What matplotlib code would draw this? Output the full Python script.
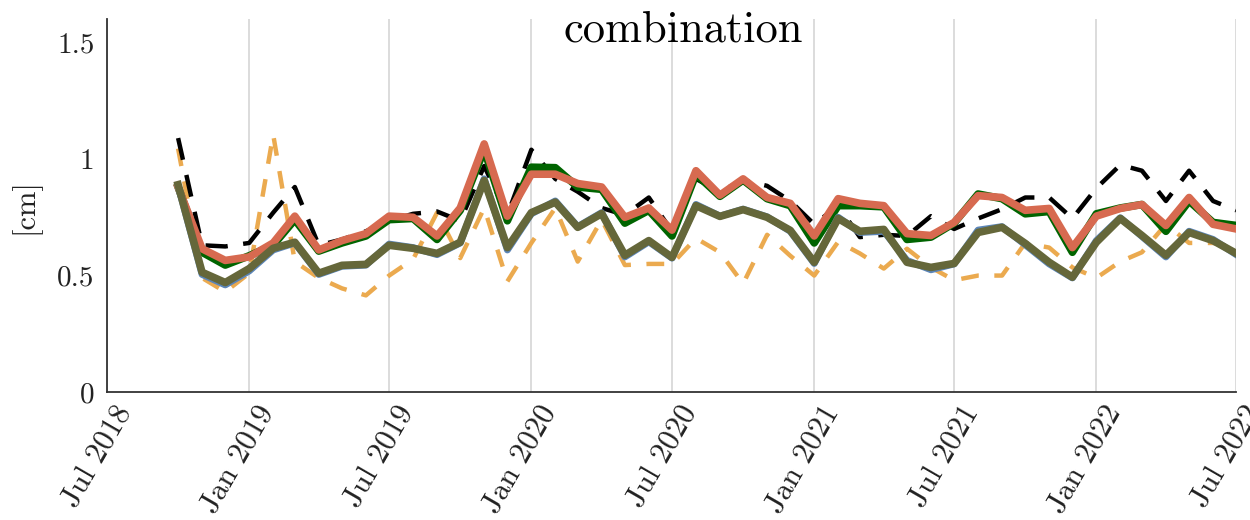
import datetime as dt
import matplotlib
matplotlib.use('Agg')
import matplotlib.pyplot as plt
import matplotlib.dates as mdates
import matplotlib.transforms as mtransforms

##### monthly series, Oct 2018 .. Jul 2022
months = [dt.date(2018 + (9 + i) // 12, (9 + i) % 12 + 1, 1) for i in range(46)]

red = [0.88, 0.615, 0.565, 0.58, 0.64, 0.755, 0.61, 0.65, 0.68, 0.755,
       0.75, 0.67, 0.79, 1.065, 0.755, 0.935, 0.935, 0.895, 0.88, 0.75,
       0.79, 0.695, 0.95, 0.845, 0.915, 0.835, 0.81, 0.67, 0.83, 0.81,
       0.80, 0.68, 0.672, 0.728, 0.843, 0.835, 0.78, 0.788, 0.62, 0.755,
       0.788, 0.805, 0.715, 0.835, 0.72, 0.70]
green = [0.88, 0.60, 0.545, 0.585, 0.63, 0.74, 0.605, 0.64, 0.67, 0.74,
         0.745, 0.655, 0.78, 1.04, 0.735, 0.965, 0.963, 0.88, 0.87, 0.725,
         0.78, 0.67, 0.935, 0.84, 0.91, 0.83, 0.80, 0.64, 0.80, 0.80,
         0.795, 0.655, 0.665, 0.725, 0.85, 0.83, 0.765, 0.775, 0.60, 0.765,
         0.79, 0.805, 0.69, 0.82, 0.728, 0.715]
olive = [0.89, 0.514, 0.47, 0.53, 0.617, 0.643, 0.51, 0.544, 0.548, 0.63,
         0.617, 0.595, 0.643, 0.908, 0.62, 0.77, 0.815, 0.707, 0.766, 0.587,
         0.65, 0.578, 0.80, 0.754, 0.783, 0.75, 0.694, 0.557, 0.745, 0.69,
         0.698, 0.557, 0.535, 0.552, 0.685, 0.707, 0.638, 0.557, 0.493, 0.643,
         0.745, 0.672, 0.587, 0.685, 0.65, 0.595]
blue = [0.885, 0.505, 0.46, 0.52, 0.61, 0.64, 0.505, 0.54, 0.545, 0.635,
        0.62, 0.59, 0.64, 0.915, 0.61, 0.765, 0.82, 0.71, 0.77, 0.58,
        0.645, 0.575, 0.805, 0.755, 0.785, 0.752, 0.69, 0.552, 0.75, 0.685,
        0.69, 0.565, 0.525, 0.55, 0.695, 0.71, 0.632, 0.55, 0.49, 0.65,
        0.748, 0.668, 0.58, 0.69, 0.655, 0.59]
black = [1.09, 0.63, 0.625, 0.64, 0.77, 0.88, 0.63, 0.655, 0.69, 0.735,
         0.765, 0.775, 0.735, 0.97, 0.76, 1.04, 0.915, 0.86, 0.79, 0.76,
         0.835, 0.69, 0.915, 0.86, 0.91, 0.885, 0.82, 0.72, 0.80, 0.665,
         0.675, 0.67, 0.755, 0.70, 0.745, 0.785, 0.835, 0.835, 0.745, 0.875,
         0.975, 0.95, 0.82, 0.95, 0.82, 0.78]
orange = [1.045, 0.49, 0.43, 0.51, 1.105, 0.56, 0.49, 0.445, 0.415, 0.50,
          0.57, 0.77, 0.575, 0.79, 0.475, 0.64, 0.79, 0.56, 0.74, 0.545,
          0.55, 0.55, 0.66, 0.60, 0.465, 0.675, 0.585, 0.50, 0.645, 0.595,
          0.53, 0.615, 0.535, 0.48, 0.50, 0.50, 0.64, 0.62, 0.535, 0.49,
          0.56, 0.60, 0.72, 0.64, 0.64, 0.62]

yticks = [0, 0.5, 1, 1.5]
yticklabels = ['0', '0.5', '1', '1.5']

##### style
plt.rcParams['font.family'] = 'cmr10'
plt.rcParams['axes.unicode_minus'] = False
plt.rcParams['axes.formatter.use_mathtext'] = True

fig = plt.figure(figsize=(12.5, 5.2), dpi=100)
ax = fig.add_axes([0.0856, 0.246, 0.9034, 0.717])

ax.plot(months, orange, color='#ebaa4f', lw=3.2, dashes=(4, 3.5), zorder=2)
ax.plot(months, black, color='black', lw=3.2, dashes=(5, 3.5), zorder=3)
ax.plot(months, green, color='#006400', lw=5.5, zorder=4)
ax.plot(months, red, color='#d76a50', lw=5.5, zorder=5)
ax.plot(months, blue, color='#5b85b8', lw=5.0, zorder=6)
ax.plot(months, olive, color='#65673a', lw=5.5, zorder=7)

ax.set_xlim(dt.date(2018, 7, 1), dt.date(2022, 7, 1))
ax.set_ylim(0, 1.6)
ax.xaxis.set_major_locator(mdates.MonthLocator(bymonth=[1, 7]))
ax.xaxis.set_major_formatter(mdates.DateFormatter('%b %Y'))
ax.set_yticks(yticks)
ax.set_yticklabels(yticklabels)
ax.tick_params(axis='both', length=0, colors='#222222')
ax.tick_params(axis='y', labelsize=21, pad=9)
ax.tick_params(axis='x', labelsize=22, pad=6)
shift = mtransforms.ScaledTranslation(0.06, 0, fig.dpi_scale_trans)
for lbl in ax.get_xticklabels():
    lbl.set_rotation(60)
    lbl.set_ha('right')
    lbl.set_rotation_mode('anchor')
    lbl.set_transform(lbl.get_transform() + shift)

ax.grid(axis='x', color='#d9d9d9', lw=1.3)
ax.set_axisbelow(True)
for side in ['top', 'right']:
    ax.spines[side].set_visible(False)
for side in ['left', 'bottom']:
    ax.spines[side].set_color('#333333')
    ax.spines[side].set_linewidth(1.3)

ax.set_ylabel('[cm]', fontsize=22, color='#222222', labelpad=12)
ax.text(0.51, 0.97, 'combination', transform=ax.transAxes, fontsize=32,
        ha='center', va='center', color='black')

plt.savefig('out.png', dpi=100)
